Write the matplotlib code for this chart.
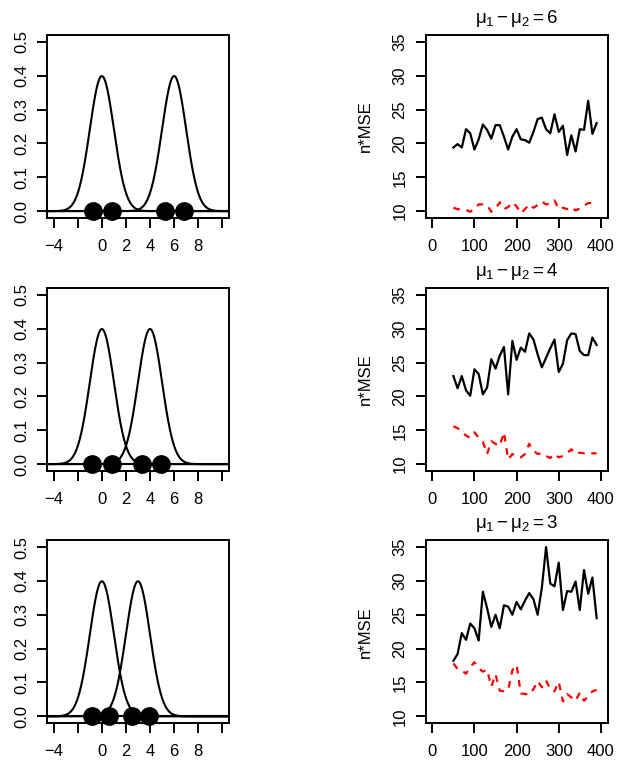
import numpy as np
import matplotlib
matplotlib.use("Agg")
import matplotlib.pyplot as plt

plt.rcParams['font.family'] = ['Liberation Sans', 'DejaVu Sans']
plt.rcParams['mathtext.fontset'] = 'custom'
plt.rcParams['mathtext.rm'] = 'Liberation Sans'
plt.rcParams['mathtext.it'] = 'Liberation Sans'
plt.rcParams['mathtext.sf'] = 'Liberation Sans'

# mean differences, one row each
diffs = [6, 4, 3]
sd = 1.0

# sample points on the x axis of the left panels
points = [
    [-0.75, 0.8, 5.25, 6.8],
    [-0.8, 0.8, 3.3, 4.9],
    [-0.8, 0.6, 2.5, 3.9],
]

n = list(range(50, 400, 10))

black_6 = [19.4, 19.9, 19.4, 22.1, 21.5, 19.1, 20.6, 22.8, 22.0, 20.7,
           22.7, 22.7, 21.0, 19.1, 21.0, 22.1, 20.6, 20.5, 20.1, 21.7,
           23.6, 23.8, 22.1, 21.5, 24.3, 21.7, 22.6, 18.3, 21.2, 18.8,
           22.1, 22.0, 26.3, 21.4, 23.0]
red_6 = [10.5, 10.3, 10.2, 10.2, 9.9, 10.4, 11.0, 11.0, 10.9, 9.9,
         10.4, 11.3, 10.3, 10.6, 11.3, 10.7, 9.7, 10.3, 11.0, 10.5,
         10.9, 11.4, 11.0, 11.1, 11.6, 10.3, 10.5, 10.3, 10.6, 10.1,
         10.4, 10.8, 11.2, 11.2, 11.2]

black_4 = [23.0, 21.2, 23.0, 20.9, 20.1, 24.0, 23.3, 20.3, 21.3, 25.5,
           24.1, 26.0, 27.3, 20.3, 28.2, 25.4, 27.2, 26.6, 29.3, 28.4,
           26.2, 24.3, 25.7, 27.1, 28.4, 23.6, 24.8, 28.3, 29.3, 29.2,
           26.7, 26.1, 26.1, 28.7, 27.6]
red_4 = [15.6, 15.3, 14.9, 14.2, 13.9, 14.7, 13.9, 13.3, 11.5, 13.4,
         13.0, 12.7, 14.7, 10.7, 11.5, 11.2, 11.0, 11.5, 13.0, 12.0,
         11.5, 11.6, 11.2, 10.9, 11.5, 11.0, 11.2, 11.6, 12.2, 11.5,
         11.7, 11.6, 11.7, 11.6, 11.6]

black_3 = [18.2, 19.2, 22.3, 21.3, 23.7, 23.0, 21.2, 28.4, 26.0, 23.2,
           25.0, 23.0, 26.4, 26.2, 25.0, 26.9, 25.8, 27.1, 28.2, 27.3,
           25.0, 29.0, 35.0, 29.6, 29.2, 32.7, 25.7, 28.5, 28.4, 29.9,
           25.7, 31.6, 28.1, 30.5, 24.5]
red_3 = [17.8, 17.0, 16.8, 16.3, 17.3, 18.0, 17.1, 16.6, 16.9, 14.4,
         16.2, 13.8, 13.7, 13.9, 16.8, 17.6, 13.4, 13.3, 13.2, 14.0,
         15.2, 14.3, 15.3, 14.0, 13.7, 15.1, 12.2, 13.3, 12.8, 12.3,
         13.5, 12.3, 13.0, 13.7, 13.9]

blacks = [black_6, black_4, black_3]
reds = [red_6, red_4, red_3]

left_xticks = list(range(-4, 11, 2))
left_xlabels = ['\u22124', '', '0', '2', '4', '6', '8', '']
left_yticks = [0.0, 0.1, 0.2, 0.3, 0.4, 0.5]
right_xticks = [0, 100, 200, 300, 400]
right_yticks = [10, 15, 20, 25, 30, 35]

fig = plt.figure(figsize=(6.24, 7.62), dpi=100)
bottoms = [0.714, 0.382, 0.051]
w, h = 0.2917, 0.240


def style(ax):
    for s in ax.spines.values():
        s.set_linewidth(1.4)
    ax.tick_params(direction='out', length=7, width=1.4, labelsize=12,
                   colors='black')
    ax.tick_params(axis='x', pad=8)
    ax.tick_params(axis='y', pad=6)
    for lab in ax.get_yticklabels():
        lab.set_rotation(90)
        lab.set_va('center')


xs = np.linspace(-4.56, 10.56, 600)
for i, d in enumerate(diffs):
    # left: two normal densities with sample points
    ax = fig.add_axes([0.0753, bottoms[i], w, h])
    for mu in (0, d):
        dens = np.exp(-0.5 * ((xs - mu) / sd) ** 2) / (sd * np.sqrt(2 * np.pi))
        ax.plot(xs, dens, color='black', lw=1.5)
    ax.axhline(0, color='black', lw=1.5)
    ax.plot(points[i], [0] * len(points[i]), 'o', color='black',
            markersize=12.5, clip_on=False)
    ax.set_xlim(-4.56, 10.56)
    ax.set_ylim(-0.02, 0.52)
    ax.set_xticks(left_xticks)
    ax.set_xticklabels(left_xlabels)
    ax.set_yticks(left_yticks)
    ax.set_yticklabels(['%.1f' % v for v in left_yticks])
    style(ax)

    # right: n*MSE against n
    ax = fig.add_axes([0.682, bottoms[i], w, h])
    ax.plot(n, blacks[i], color='black', lw=1.6)
    ax.plot(n, reds[i], color='red', lw=1.6, linestyle=(0, (3, 3)))
    ax.set_xlim(-16, 416)
    ax.set_ylim(9, 36)
    ax.set_xticks(right_xticks)
    ax.set_yticks(right_yticks)
    ax.set_ylabel('n*MSE', fontsize=12, labelpad=14)
    ax.set_title(r'$\mu_1 - \mu_2 = %d$' % d, fontsize=13.5, pad=9)
    style(ax)

fig.savefig('out.png', dpi=100)
